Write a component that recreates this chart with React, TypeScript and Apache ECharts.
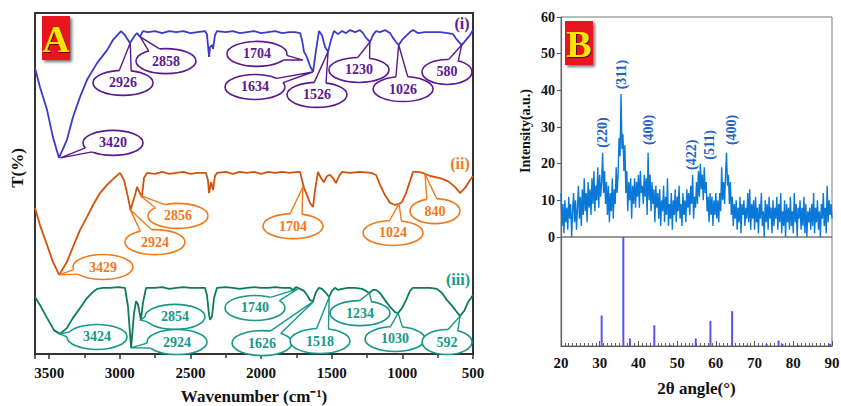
import React, { useEffect, useRef } from 'react';
import * as echarts from 'echarts';

// ---------- FTIR (panel A): [wavenumber cm-1, T (arbitrary %)] ----------
const ftirI: [number, number][] = [
  [3600, 83.9], [3565, 78.3], [3515, 71.6], [3473, 63.6], [3430, 57.5], [3374, 62.8], [3331, 69.5], [3281, 75.4],
  [3232, 80.4], [3161, 85.3], [3090, 89.1], [3048, 92.1], [2991, 94.7], [2963, 93.5], [2928, 91.2], [2892, 93.5],
  [2878, 94.1], [2857, 93.0], [2836, 94.7], [2800, 94.4], [2750, 94.7], [2700, 94.1], [2650, 94.7], [2600, 94.4],
  [2550, 94.7], [2500, 94.1], [2450, 94.4], [2397, 94.7], [2383, 93.8], [2368, 87.1], [2361, 90.0], [2347, 90.6],
  [2340, 89.5], [2326, 93.5], [2312, 94.7], [2250, 94.4], [2200, 94.7], [2150, 94.1], [2100, 94.4], [2050, 94.7],
  [2000, 94.1], [1950, 94.4], [1900, 94.7], [1850, 94.1], [1800, 94.4], [1760, 94.4], [1724, 94.1], [1710, 92.1],
  [1696, 88.6], [1682, 87.7], [1668, 86.2], [1654, 84.5], [1632, 82.7], [1611, 89.1], [1590, 94.7], [1569, 93.5],
  [1547, 90.0], [1526, 88.6], [1505, 92.1], [1484, 94.7], [1455, 93.8], [1427, 94.7], [1399, 94.1], [1370, 95.0],
  [1335, 94.4], [1300, 95.0], [1278, 94.1], [1257, 92.7], [1229, 91.5], [1208, 93.5], [1186, 94.7], [1158, 94.4],
  [1123, 95.0], [1087, 94.1], [1066, 92.7], [1045, 91.5], [1026, 90.6], [1002, 92.1], [974, 93.3], [946, 94.4],
  [925, 95.0], [889, 94.1], [840, 94.4], [790, 94.4], [733, 94.4], [677, 94.1], [641, 93.8], [613, 92.1],
  [580, 90.6], [549, 92.1], [521, 93.5], [500, 95.0],
];

const ftirII: [number, number][] = [
  [3600, 42.8], [3565, 37.8], [3515, 32.0], [3473, 27.0], [3429, 23.2], [3374, 27.0], [3331, 31.4], [3281, 36.4],
  [3232, 40.2], [3189, 43.7], [3140, 47.2], [3090, 49.6], [3048, 51.3], [2998, 53.1], [2970, 51.0], [2942, 46.0],
  [2924, 42.2], [2892, 46.6], [2878, 49.0], [2857, 47.2], [2843, 46.0], [2829, 51.6], [2807, 53.1], [2750, 52.8],
  [2700, 53.4], [2650, 52.8], [2600, 53.1], [2550, 53.4], [2500, 52.8], [2450, 53.1], [2390, 53.1], [2376, 51.0],
  [2368, 47.2], [2354, 50.4], [2340, 48.1], [2326, 52.2], [2312, 53.1], [2250, 53.4], [2200, 52.8], [2150, 53.4],
  [2100, 53.1], [2050, 53.4], [2000, 52.8], [1950, 53.4], [1900, 53.1], [1850, 53.4], [1800, 53.1], [1739, 53.4],
  [1724, 53.4], [1710, 51.0], [1696, 48.7], [1675, 46.6], [1654, 44.3], [1632, 43.1], [1618, 48.1], [1597, 53.4],
  [1576, 51.6], [1555, 50.4], [1533, 52.2], [1512, 52.5], [1491, 51.6], [1470, 50.1], [1448, 52.2], [1427, 53.4],
  [1370, 53.1], [1300, 53.4], [1220, 53.1], [1186, 52.5], [1158, 49.6], [1123, 46.6], [1087, 44.3], [1052, 43.7],
  [1024, 44.0], [1002, 44.6], [974, 47.2], [946, 50.7], [925, 53.4], [889, 53.4], [854, 53.1], [840, 52.8],
  [804, 52.2], [733, 51.6], [677, 50.7], [627, 49.0], [592, 47.2], [556, 48.7], [521, 51.0], [500, 52.2],
];

const ftirIII: [number, number][] = [
  [3600, 16.7], [3565, 14.4], [3515, 10.6], [3466, 7.0], [3424, 5.9], [3374, 7.6], [3331, 10.6], [3281, 13.5],
  [3232, 16.4], [3189, 18.2], [3161, 19.1], [3119, 19.4], [3069, 19.4], [3013, 19.6], [2963, 19.4], [2942, 14.0],
  [2920, 1.8], [2899, 12.0], [2885, 15.5], [2871, 14.5], [2850, 10.0], [2836, 15.0], [2814, 19.4], [2750, 19.4],
  [2700, 19.6], [2650, 19.1], [2600, 19.4], [2550, 19.6], [2500, 19.4], [2450, 19.4], [2397, 19.4], [2383, 17.3],
  [2368, 11.4], [2361, 10.0], [2347, 11.1], [2333, 16.4], [2312, 19.4], [2250, 19.6], [2200, 19.4], [2150, 19.1],
  [2100, 19.4], [2050, 19.6], [2000, 19.4], [1950, 19.4], [1900, 19.6], [1850, 19.4], [1795, 19.4], [1774, 18.8],
  [1753, 19.6], [1724, 19.1], [1696, 18.5], [1675, 17.3], [1654, 15.8], [1632, 15.5], [1611, 18.2], [1590, 19.4],
  [1569, 19.1], [1540, 17.9], [1519, 16.7], [1498, 18.5], [1477, 19.4], [1455, 18.8], [1427, 19.1], [1385, 19.4],
  [1335, 19.4], [1285, 19.1], [1257, 18.5], [1234, 17.9], [1208, 18.8], [1186, 18.8], [1158, 17.9], [1123, 15.8],
  [1087, 13.8], [1052, 12.3], [1031, 12.0], [1002, 13.5], [974, 15.8], [946, 18.5], [925, 19.4], [875, 19.4],
  [804, 19.4], [755, 19.1], [719, 17.9], [684, 15.8], [648, 14.1], [620, 12.6], [592, 11.1], [563, 12.6],
  [535, 15.2], [500, 17.3],
];

// annotations: [tip wavenumber, tip T, label wavenumber, label T, text]
type Note = [number, number, number, number, string];
const notesI: Note[] = [
  [3420, 57.5, 3048, 61.9, '3420'],
  [2926, 91.2, 2977, 79.5, '2926'],
  [2855, 93.0, 2673, 85.9, '2858'],
  [1704, 86.2, 2029, 88.0, '1704'],
  [1634, 82.7, 2043, 78.3, '1634'],
  [1526, 88.6, 1604, 76.0, '1526'],
  [1230, 91.5, 1307, 83.3, '1230'],
  [1026, 90.6, 995, 77.7, '1026'],
  [580, 90.6, 684, 82.7, '580'],
];
const notesII: Note[] = [
  [3429, 23.2, 3119, 25.5, '3429'],
  [2924, 42.2, 2751, 32.8, '2924'],
  [2856, 46.5, 2588, 40.5, '2856'],
  [1704, 49.0, 1774, 37.5, '1704'],
  [1024, 44.0, 1066, 35.5, '1024'],
  [840, 52.8, 769, 41.9, '840'],
];
const notesIII: Note[] = [
  [3424, 5.9, 3161, 5.0, '3424'],
  [2854, 10.0, 2609, 10.9, '2854'],
  [2924, 1.8, 2595, 3.5, '2924'],
  [1740, 19.1, 2043, 13.5, '1740'],
  [1626, 15.5, 1993, 3.2, '1626'],
  [1518, 16.7, 1583, 3.8, '1518'],
  [1234, 17.9, 1300, 12.0, '1234'],
  [1030, 12.0, 1052, 4.4, '1030'],
  [592, 11.1, 684, 3.5, '592'],
];

// ---------- XRD (panel B) ----------
const xrdStart = 20;
const xrdStep = 0.25;
const xrdIntensity: number[] = [
  12, 3, 9, 1, 10, 4, 8, 2, 11, 5, 9, 0, 7, 12, 4, 10, 2, 8, 14, 5,
  11, 3, 13, 6, 16, 7, 12, 4, 15, 8, 13, 6, 16, 9, 18, 7, 14, 10, 19, 8,
  17, 11, 15, 23, 12, 18, 9, 15, 6, 14, 4, 12, 7, 16, 5, 13, 9, 19, 12, 17,
  27, 22, 39, 24, 28, 18, 25, 12, 18, 7, 15, 10, 16, 5, 14, 9, 16, 8, 15, 11,
  17, 8, 18, 12, 14, 9, 17, 11, 16, 6, 23, 10, 17, 7, 15, 9, 13, 4, 14, 8,
  12, 5, 13, 3, 10, 7, 14, 4, 11, 6, 16, 3, 9, 5, 12, 2, 10, 6, 13, 4,
  11, 7, 14, 5, 9, 3, 12, 6, 10, 4, 13, 8, 12, 6, 14, 9, 17, 5, 11, 8,
  15, 9, 18, 11, 20, 13, 17, 10, 19, 12, 15, 7, 11, 4, 12, 6, 11, 3, 10, 6,
  12, 5, 10, 4, 12, 7, 19, 10, 15, 9, 17, 23, 14, 17, 9, 15, 6, 11, 3, 9,
  5, 10, 2, 8, 4, 11, 1, 9, 6, 10, 3, 8, 5, 12, 4, 13, 2, 9, 5, 10,
  2, 11, 4, 8, 1, 9, 5, 12, 3, 7, 0, 10, 4, 9, 2, 11, 5, 8, 1, 10,
  3, 8, 5, 11, 2, 9, 4, 12, 1, 7, 3, 10, 0, 9, 4, 8, 2, 11, 3, 7,
  1, 12, 4, 9, 0, 8, 5, 10, 2, 8, 3, 11, 1, 9, 0, 7, 4, 8, 2, 9,
  3, 12, 1, 8, 4, 10, 2, 7, 0, 9, 5, 12, 3, 8, 1, 14, 4, 10, 6, 9,
  5,
];
const refAngles = [30.5, 36.1, 37.8, 44.1, 48.3, 54.8, 58.6, 64.2, 67.8, 73.1, 76.2, 77.2, 81.3, 89.5];
const refHeights = [0.28, 1.0, 0.07, 0.19, 0.01, 0.07, 0.23, 0.32, 0.005, 0.02, 0.05, 0.02, 0.01, 0.02];

// XRD peak labels: [angle, intensity at label centre, text]
const peakLabels: [number, number, string][] = [
  [30.7, 28.5, '(220)'],
  [35.5, 44.3, '(311)'],
  [42.6, 29.2, '(400)'],
  [53.8, 22.4, '(422)'],
  [58.4, 25.1, '(511)'],
  [64.0, 29.2, '(400)'],
];

const SERIF = 'Liberation Serif';

function noteSeries(notes: Note[], color: string) {
  return {
    type: 'custom',
    xAxisIndex: 0,
    yAxisIndex: 0,
    z: 5,
    clip: false,
    silent: true,
    data: notes.map((n) => [n[0], n[1], n[2], n[3]]),
    encode: { x: [0, 2], y: [1, 3] },
    renderItem: (params: any, api: any) => {
      const text = notes[params.dataIndex][4];
      const tip = api.coord([api.value(0), api.value(1)]);
      const c = api.coord([api.value(2), api.value(3)]);
      const rx = 10 + text.length * 5.0;
      const ry = 12.5;
      const phi = Math.atan2((tip[1] - c[1]) / ry, (tip[0] - c[0]) / rx);
      const d = 0.2;
      const p = (a: number, k: number) => [c[0] + rx * k * Math.cos(a), c[1] + ry * k * Math.sin(a)];
      const b1 = p(phi - d, 1);
      const b2 = p(phi + d, 1);
      return {
        type: 'group',
        children: [
          { type: 'ellipse', shape: { cx: c[0], cy: c[1], rx, ry }, style: { fill: '#fff', stroke: color, lineWidth: 1.6 } },
          { type: 'polygon', shape: { points: [p(phi - d, 0.85), b1, tip, b2, p(phi + d, 0.85)] }, style: { fill: '#fff' } },
          { type: 'polyline', shape: { points: [b1, tip, b2] }, style: { fill: 'none', stroke: color, lineWidth: 1.4 } },
          {
            type: 'text',
            x: c[0],
            y: c[1],
            style: { text, fill: color, fontSize: 14, fontWeight: 'bold', fontFamily: SERIF, align: 'center', verticalAlign: 'middle' },
          },
        ],
      };
    },
  };
}

function peakLabelSeries() {
  return {
    type: 'custom',
    xAxisIndex: 1,
    yAxisIndex: 1,
    z: 6,
    clip: false,
    silent: true,
    data: peakLabels.map((p) => [p[0], p[1]]),
    renderItem: (params: any, api: any) => {
      const pt = api.coord([api.value(0), api.value(1)]);
      return {
        type: 'text',
        x: pt[0],
        y: pt[1],
        rotation: Math.PI / 2,
        style: {
          text: peakLabels[params.dataIndex][2],
          fill: '#1f62c4',
          fontSize: 14,
          fontWeight: 'bold',
          fontFamily: SERIF,
          align: 'center',
          verticalAlign: 'middle',
        },
      };
    },
  };
}

function badge(x: number, y: number, letter: string) {
  return {
    type: 'group',
    children: [
      {
        type: 'rect',
        shape: { x, y, width: 28, height: 44 },
        style: { fill: '#e8121a', shadowBlur: 3, shadowColor: 'rgba(0,0,0,0.55)', shadowOffsetX: 2, shadowOffsetY: 2 },
      },
      {
        type: 'text',
        x: x + 14,
        y: y + 23,
        style: {
          text: letter,
          fill: '#ffe600',
          fontSize: 38,
          fontWeight: 'bold',
          fontFamily: SERIF,
          align: 'center',
          verticalAlign: 'middle',
          textShadowColor: 'rgba(60,0,0,0.8)',
          textShadowOffsetX: 1,
          textShadowOffsetY: 1,
          textShadowBlur: 1,
        },
      },
    ],
  };
}

function txt(x: number, y: number, text: string, fill: string, fontSize: number, rotation = 0) {
  return {
    type: 'text',
    x,
    y,
    rotation,
    style: { text, fill, fontSize, fontWeight: 'bold', fontFamily: SERIF, align: 'center', verticalAlign: 'middle' },
  };
}

export default function App() {
  const ref = useRef<HTMLDivElement>(null);

  useEffect(() => {
    if (!ref.current) return;
    const chart = echarts.init(ref.current, undefined, { renderer: 'svg' });
    const axisLabelFont = { fontFamily: SERIF, fontWeight: 'bold' as const, fontSize: 15, color: '#111' };

    chart.setOption({
      animation: false,
      backgroundColor: '#fff',
      textStyle: { fontFamily: SERIF },
      grid: [
        { left: 35, top: 13, width: 438, height: 341, show: true, borderColor: '#333', borderWidth: 2, outerBoundsMode: 'none' },
        { left: 561, top: 17, width: 271, height: 220, show: true, borderColor: '#777', borderWidth: 1, outerBoundsMode: 'none' },
        { left: 561, top: 237, width: 271, height: 109, show: true, borderColor: '#777', borderWidth: 1, outerBoundsMode: 'none' },
      ],
      xAxis: [
        {
          gridIndex: 0,
          type: 'value',
          min: 500,
          max: 3600,
          interval: 500,
          inverse: true,
          axisLine: { show: true, lineStyle: { color: '#333', width: 2 } },
          axisTick: { show: true, length: 5, lineStyle: { color: '#333', width: 1.5 } },
          minorTick: { show: true, splitNumber: 2, length: 4, lineStyle: { color: '#333', width: 1.5 } },
          splitLine: { show: false },
          minorSplitLine: { show: false },
          axisLabel: { ...axisLabelFont, margin: 11, formatter: (v: number) => (v === 3600 ? '' : String(v)) },
          name: 'Wavenumber (cm⁻¹)',
          nameLocation: 'middle',
          nameGap: 34,
          nameTextStyle: { fontFamily: SERIF, fontWeight: 'bold', fontSize: 17, color: '#111' },
        },
        {
          gridIndex: 1,
          type: 'value',
          min: 20,
          max: 90,
          interval: 10,
          axisLine: { show: false },
          axisTick: { show: false },
          axisLabel: { show: false },
          splitLine: { show: false },
        },
        {
          gridIndex: 2,
          type: 'value',
          min: 20,
          max: 90,
          interval: 10,
          axisLine: { show: true, lineStyle: { color: '#555', width: 1.2 } },
          axisTick: { show: true, inside: true, length: 5, lineStyle: { color: '#555' } },
          minorTick: { show: true, splitNumber: 10, length: 3, lineStyle: { color: '#666' } },
          splitLine: { show: false },
          minorSplitLine: { show: false },
          axisLabel: { ...axisLabelFont, margin: 9 },
          name: '2θ angle(°)',
          nameLocation: 'middle',
          nameGap: 34,
          nameTextStyle: { fontFamily: SERIF, fontWeight: 'bold', fontSize: 17, color: '#111' },
        },
      ],
      yAxis: [
        {
          gridIndex: 0,
          type: 'value',
          min: 0,
          max: 100,
          axisLine: { show: true, lineStyle: { color: '#333', width: 2 } },
          axisTick: { show: false },
          axisLabel: { show: false },
          splitLine: { show: false },
        },
        {
          gridIndex: 1,
          type: 'value',
          min: 0,
          max: 60,
          interval: 10,
          axisLine: { show: true, lineStyle: { color: '#666', width: 1.2 } },
          axisTick: { show: true, length: 4, lineStyle: { color: '#555' } },
          axisLabel: { ...axisLabelFont, fontSize: 14, margin: 6 },
          splitLine: { show: false },
        },
        {
          gridIndex: 2,
          type: 'value',
          min: 0,
          max: 1,
          axisLine: { show: true, lineStyle: { color: '#666', width: 1.2 } },
          axisTick: { show: false },
          axisLabel: { show: false },
          splitLine: { show: false },
        },
      ],
      series: [
        { type: 'line', xAxisIndex: 0, yAxisIndex: 0, data: ftirI, showSymbol: false, lineStyle: { color: '#3b3bc6', width: 1.8 }, z: 2 },
        { type: 'line', xAxisIndex: 0, yAxisIndex: 0, data: ftirII, showSymbol: false, lineStyle: { color: '#d2520c', width: 1.8 }, z: 2 },
        { type: 'line', xAxisIndex: 0, yAxisIndex: 0, data: ftirIII, showSymbol: false, lineStyle: { color: '#0e7a5c', width: 1.8 }, z: 2 },
        noteSeries(notesI, '#5b1891'),
        noteSeries(notesII, '#f07a1c'),
        noteSeries(notesIII, '#16998a'),
        {
          type: 'line',
          xAxisIndex: 1,
          yAxisIndex: 1,
          data: xrdIntensity.map((v, i) => [xrdStart + i * xrdStep, v]),
          showSymbol: false,
          lineStyle: { color: '#0a78d6', width: 1.4 },
          z: 2,
        },
        peakLabelSeries(),
        {
          type: 'bar',
          xAxisIndex: 2,
          yAxisIndex: 2,
          data: refAngles.map((a, i) => [a, refHeights[i]]),
          barWidth: 2,
          itemStyle: { color: '#5656ee' },
        },
      ],
      graphic: [
        badge(42, 16, 'A'),
        badge(565, 21, 'B'),
        txt(462, 23, '(i)', '#5b1891', 16),
        txt(460, 163, '(ii)', '#f07a1c', 16),
        txt(458, 279, '(iii)', '#16998a', 16),
        txt(17, 168, 'T(%)', '#111', 17, Math.PI / 2),
        txt(525, 131, 'Intensity(a.u.)', '#111', 14, Math.PI / 2),
      ],
    });

    return () => chart.dispose();
  }, []);

  return <div ref={ref} style={{ position: 'fixed', left: 0, top: 0, width: 841, height: 406 }} />;
}
